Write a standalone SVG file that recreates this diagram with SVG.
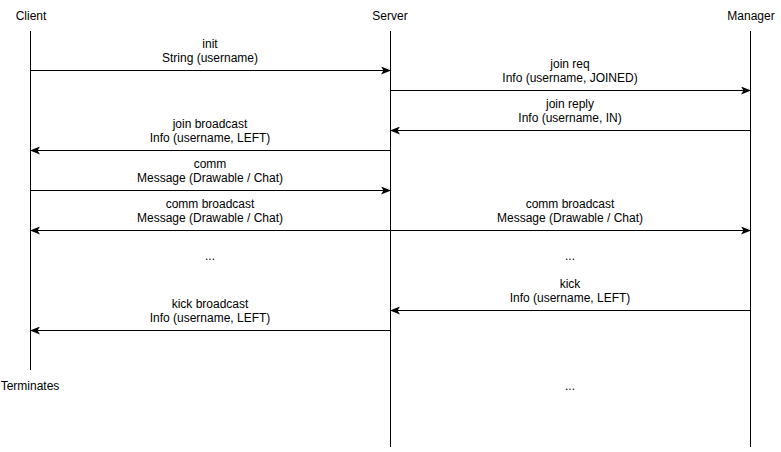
<svg xmlns="http://www.w3.org/2000/svg" width="781" height="452" viewBox="0 0 781 452">
  <style>
    text { font-family: "Liberation Sans", Arial, sans-serif; font-size: 12px; fill: #000; }
    .mid { text-anchor: middle; }
    .life { stroke: #000; stroke-width: 1; fill: none; }
    .msg { stroke: #000; stroke-width: 1; fill: none; }
  </style>
  <defs>
    <marker id="head" viewBox="0 0 10 8" refX="9" refY="4" markerWidth="10" markerHeight="8" markerUnits="userSpaceOnUse" orient="auto-start-reverse">
      <path d="M0,0 L10,4 L0,8 L2.5,4 Z" fill="#000"/>
    </marker>
  </defs>
  <rect width="781" height="452" fill="#fff"/>

  <!-- participants with their lifelines -->
  <g id="client">
    <text x="31" y="20" class="mid">Client</text>
    <line class="life" x1="30.5" y1="31" x2="30.5" y2="370"/>
    <text x="30" y="390" class="mid">Terminates</text>
  </g>
  <g id="server">
    <text x="390" y="20" class="mid">Server</text>
    <line class="life" x1="390.5" y1="31" x2="390.5" y2="447"/>
  </g>
  <g id="manager">
    <text x="751" y="20" class="mid">Manager</text>
    <line class="life" x1="750.5" y1="31" x2="750.5" y2="447"/>
  </g>

  <!-- messages -->
  <g id="connectors">
    <line class="msg" x1="31" y1="70.5" x2="390" y2="70.5" marker-end="url(#head)"/>
    <line class="msg" x1="391" y1="90.5" x2="750" y2="90.5" marker-end="url(#head)"/>
    <line class="msg" x1="750" y1="130.5" x2="391" y2="130.5" marker-end="url(#head)"/>
    <line class="msg" x1="390" y1="150.5" x2="31" y2="150.5" marker-end="url(#head)"/>
    <line class="msg" x1="31" y1="190.5" x2="390" y2="190.5" marker-end="url(#head)"/>
    <line class="msg" x1="31" y1="230.5" x2="750" y2="230.5" marker-start="url(#head)" marker-end="url(#head)"/>
    <line class="msg" x1="750" y1="310.5" x2="391" y2="310.5" marker-end="url(#head)"/>
    <line class="msg" x1="390" y1="330.5" x2="31" y2="330.5" marker-end="url(#head)"/>
  </g>

  <!-- message labels -->
  <g id="labels">
    <text x="210" y="48" class="mid">init</text>
    <text x="210" y="62" class="mid">String (username)</text>

    <text x="570" y="68" class="mid">join req</text>
    <text x="570" y="82" class="mid">Info (username, JOINED)</text>

    <text x="570" y="108" class="mid">join reply</text>
    <text x="570" y="122" class="mid">Info (username, IN)</text>

    <text x="210" y="128" class="mid">join broadcast</text>
    <text x="210" y="142" class="mid">Info (username, LEFT)</text>

    <text x="210" y="168" class="mid">comm</text>
    <text x="210" y="182" class="mid">Message (Drawable / Chat)</text>

    <text x="210" y="208" class="mid">comm broadcast</text>
    <text x="210" y="222" class="mid">Message (Drawable / Chat)</text>
    <text x="570" y="208" class="mid">comm broadcast</text>
    <text x="570" y="222" class="mid">Message (Drawable / Chat)</text>

    <text x="210" y="260" class="mid">...</text>
    <text x="570" y="260" class="mid">...</text>

    <text x="570" y="288" class="mid">kick</text>
    <text x="570" y="302" class="mid">Info (username, LEFT)</text>

    <text x="210" y="308" class="mid">kick broadcast</text>
    <text x="210" y="322" class="mid">Info (username, LEFT)</text>

    <text x="570" y="390" class="mid">...</text>
  </g>
</svg>
